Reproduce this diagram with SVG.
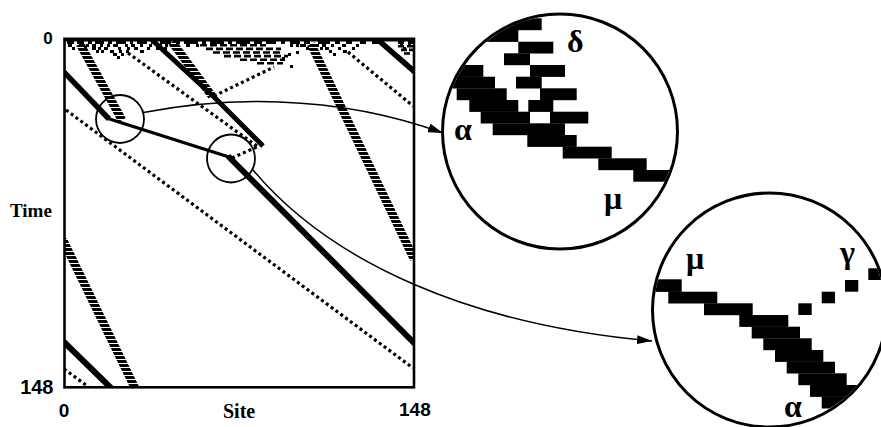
<svg xmlns="http://www.w3.org/2000/svg" width="881" height="427" viewBox="0 0 881 427">
<style>
.lbl{font-family:"Liberation Sans",Arial,sans-serif;font-weight:bold;fill:#000}
.ser{font-family:"Liberation Serif","Times New Roman",serif;font-weight:bold;fill:#000}
.gk{font-family:"Liberation Serif","DejaVu Serif",serif;font-size:32px;font-weight:bold;fill:#000}
.thick{stroke:#000;fill:none;stroke-linecap:butt}
.dot{stroke:#000;stroke-width:3.2;stroke-dasharray:3 3;fill:none}
.hatch{stroke:url(#hh);stroke-width:8.5;fill:none}
.conn{stroke:#000;stroke-width:1.5;fill:none}
.blk{fill:#000}
</style>
<defs>
<pattern id="hh" patternUnits="userSpaceOnUse" width="40" height="4"><rect width="40" height="3" fill="#000"/></pattern>
<clipPath id="plotclip"><rect x="65" y="39" width="349" height="348"/></clipPath>
<clipPath id="c1clip"><circle cx="560" cy="131.5" r="116"/></clipPath>
<clipPath id="c2clip"><circle cx="769.5" cy="310" r="115.5"/></clipPath>
<marker id="ah" viewBox="0 0 10 10" refX="10" refY="5" markerWidth="15" markerHeight="9" markerUnits="userSpaceOnUse" orient="auto" preserveAspectRatio="none"><path d="M0,0 L10,5 L0,10 z" fill="#000"/></marker>
</defs>
<rect width="881" height="427" fill="#fff"/>

<g id="spacetime">
<g clip-path="url(#plotclip)">
<!-- noise at top -->
<path class="blk" d="M65,39h349v2.5h-349z
M67,41h7v3h-7z M77,41h7v3h-7z M88,41h4v3h-4z M95,41h9v3h-9z M108,41h4v3h-4z M116,41h10v3h-10z M130,41h3v3h-3z M137,41h10v3h-10z M151,41h5v3h-5z M160,41h11v3h-11z M176,41h4v3h-4z M184,41h14v3h-14z M202,41h4v3h-4z M210,41h14v3h-14z M228,41h4v3h-4z M236,41h14v3h-14z M254,41h8v3h-8z M266,41h10v3h-10z M281,41h4v3h-4z M290,41h10v3h-10z M304,41h6v3h-6z M318,41h12v3h-12z M335,41h5v3h-5z M346,41h6v3h-6z M360,41h6v3h-6z M372,41h6v3h-6z M398,41h6v3h-6z M408,41h5v3h-5z
M68,44h4v3h-4z M79,44h5v3h-5z M86,44h3v3h-3z M92,44h4v3h-4z M100,44h3v3h-3z M107,44h3v3h-3z M113,44h5v3h-5z M125,44h3v3h-3z M131,44h4v3h-4z M140,44h3v3h-3z M149,44h3v3h-3z M158,44h4v3h-4z M165,44h3v3h-3z M170,44h4v3h-4z M186,44h4v3h-4z M196,44h3v3h-3z M290,44h3v3h-3z M296,44h3v3h-3z M300,44h6v3h-6z M310,44h3v3h-3z M316,44h3v3h-3z M322,44h4v3h-4z M331,44h3v3h-3z M342,44h4v3h-4z M356,44h3v3h-3z M400,44h3v3h-3z M408,44h3v3h-3z
M72,47h3v3h-3z M84,47h3v3h-3z M92,47h4v3h-4z M98,47h3v3h-3z M104,47h4v3h-4z M118,47h3v3h-3z M127,47h3v3h-3z M134,47h4v3h-4z M147,47h3v3h-3z M156,47h3v3h-3z M164,47h3v3h-3z M306,47h3v3h-3z M320,47h3v3h-3z M325,47h4v3h-4z M338,47h3v3h-3z M352,47h3v3h-3z M403,47h3v3h-3z
M96,50h3v3h-3z M101,50h3v3h-3z M110,50h4v3h-4z M119,50h3v3h-3z M126,50h3v3h-3z M140,50h4v3h-4z M329,50h3v3h-3z M343,50h4v3h-4z
M113,53h4v3h-4z M121,53h3v3h-3z M288,53h3v3h-3z M333,53h3v3h-3z M296,51h3v3h-3z M282,57h3v3h-3z M290,65h3v3h-3z M117,56h3v3h-3z"/>
<!-- delta-like bars at top -->
<path class="blk" d="M200,44h7v2.6h-7z M210,44h7v2.6h-7z M220,44h7v2.6h-7z M230,44h7v2.6h-7z M240,44h7v2.6h-7z M250,44h7v2.6h-7z M260,44h6v2.6h-6z
M206,47.6h7v2.6h-7z M216,47.6h7v2.6h-7z M226,47.6h7v2.6h-7z M236,47.6h7v2.6h-7z M246,47.6h7v2.6h-7z M256,47.6h7v2.6h-7z M266,47.6h7v2.6h-7z M276,47.6h5v2.6h-5z
M213,51.2h7v2.6h-7z M223,51.2h7v2.6h-7z M233,51.2h7v2.6h-7z M243,51.2h7v2.6h-7z M253,51.2h7v2.6h-7z M263,51.2h7v2.6h-7z M273,51.2h7v2.6h-7z
M224,54.8h7v2.6h-7z M234,54.8h7v2.6h-7z M244,54.8h7v2.6h-7z M254,54.8h7v2.6h-7z M264,54.8h7v2.6h-7z M274,54.8h7v2.6h-7z M284,54.8h4v2.6h-4z
M240,58.4h7v2.6h-7z M250,58.4h7v2.6h-7z M260,58.4h7v2.6h-7z M270,58.4h7v2.6h-7z M280,58.4h5v2.6h-5z
M257,62h7v2.6h-7z M267,62h7v2.6h-7z M277,62h6v2.6h-6z
M398,45h6v2.6h-6z M407,45h6v2.6h-6z M401,48.6h6v2.6h-6z M409,48.6h5v2.6h-5z M404,52.2h6v2.6h-6z"/>
<!-- hatched lines -->
<path class="hatch" d="M80,44 L122,120"/>
<path class="hatch" d="M172,42 L212,96"/>
<path class="hatch" d="M311,44 L414,259"/>
<path class="hatch" d="M63,240 L135,388"/>
<!-- dotted lines -->
<path class="dot" d="M128,53 L258,147"/>
<path class="dot" d="M66,110 L413,368"/>
<path class="dot" d="M64,369 L90,388"/>
<path class="dot" d="M348,52 L413,106"/>
<path class="dot" d="M214,96 L274,67"/>
<path class="dot" d="M232,158 L259,146"/>
<!-- thick solid lines -->
<path class="thick" stroke-width="5.5" d="M377,39 L416,73"/>
<path class="thick" stroke-width="5.5" d="M62,70 L109,119"/>
<path class="thick" stroke-width="3.4" d="M108,118.5 L229,157"/>
<path class="thick" stroke-width="6" d="M228,156 L416,345"/>
<path class="thick" stroke-width="6" d="M62,340 L112,389"/>
<path class="thick" stroke-width="5" d="M152,40 L213,96 L263,146"/>
</g>
<rect x="64.5" y="38.8" width="349.5" height="348.5" fill="none" stroke="#000" stroke-width="2.6"/>
</g>

<g id="axis-labels">
<text class="lbl" x="48" y="43.5" font-size="17" text-anchor="middle">0</text>
<text class="ser" x="10" y="217" font-size="19">Time</text>
<text class="lbl" x="53.5" y="394" font-size="20" text-anchor="end">148</text>
<text class="lbl" x="64" y="417" font-size="19" text-anchor="middle">0</text>
<text class="ser" x="223" y="417.5" font-size="20">Site</text>
<text class="lbl" x="399" y="416" font-size="19">148</text>
</g>

<g id="lens-1">
<circle cx="120" cy="119" r="24" fill="none" stroke="#000" stroke-width="1.8"/>
</g>
<g id="lens-2">
<circle cx="231" cy="158.5" r="24" fill="none" stroke="#000" stroke-width="1.8"/>
</g>

<g id="zoom-top">
<g clip-path="url(#c1clip)" class="blk">
<rect x="430" y="18.3" width="111.7" height="11.9"/>
<rect x="430" y="30" width="88.3" height="11.9"/>
<rect x="518.3" y="41.7" width="35" height="11.8"/>
<rect x="504" y="53.3" width="26" height="11.9"/>
<rect x="430" y="65" width="53.3" height="11.9"/>
<rect x="530" y="65" width="35" height="11.9"/>
<rect x="430" y="76.7" width="65" height="11.8"/>
<rect x="516" y="76.7" width="25.7" height="11.8"/>
<rect x="456.7" y="88.3" width="50" height="11.9"/>
<rect x="540" y="88.3" width="36.7" height="11.9"/>
<rect x="469.3" y="100" width="49" height="11.9"/>
<rect x="528.3" y="100" width="25" height="11.9"/>
<rect x="480.7" y="111.7" width="49.3" height="11.8"/>
<rect x="550" y="111.7" width="38.3" height="11.8"/>
<rect x="492.7" y="123.3" width="72.3" height="11.9"/>
<rect x="527.3" y="135" width="49.4" height="11.9"/>
<rect x="562.7" y="146.7" width="49" height="11.8"/>
<rect x="598.3" y="158.3" width="48.4" height="11.9"/>
<rect x="633.3" y="170" width="60" height="11.7"/>
</g>
<circle cx="560" cy="131.5" r="117.5" fill="none" stroke="#000" stroke-width="3"/>
<text class="gk" x="567" y="52" font-size="28">δ</text>
<text class="gk" x="454" y="140">α</text>
<text class="gk" x="604" y="209">μ</text>
</g>

<g id="zoom-bottom">
<g clip-path="url(#c2clip)" class="blk">
<rect x="640" y="279.3" width="41.7" height="12.6"/>
<rect x="668.3" y="291.7" width="49" height="11.8"/>
<rect x="704" y="303.3" width="48.7" height="11.9"/>
<rect x="739.3" y="315" width="49" height="11.9"/>
<rect x="751.7" y="326.7" width="48.3" height="11.8"/>
<rect x="763.3" y="338.3" width="48.4" height="11.9"/>
<rect x="775" y="350" width="48.3" height="11.9"/>
<rect x="786.7" y="361.7" width="48.3" height="11.8"/>
<rect x="798.3" y="373.3" width="48.4" height="11.9"/>
<rect x="810" y="385" width="90" height="11.9"/>
<rect x="821.7" y="396.7" width="80" height="11.8"/>
<rect x="833.3" y="408.3" width="70" height="11.9"/>
<rect x="845" y="420" width="60" height="12"/>
<rect x="798.3" y="303.3" width="13.4" height="11.7"/>
<rect x="821.7" y="291.7" width="13.3" height="11.6"/>
<rect x="845" y="280" width="13.3" height="11.7"/>
<rect x="868.3" y="268.3" width="13.3" height="11.7"/>
</g>
<circle cx="769.5" cy="310" r="117" fill="none" stroke="#000" stroke-width="3"/>
<text class="gk" x="686" y="269">μ</text>
<text class="gk" x="840" y="263">γ</text>
<text class="gk" x="784" y="417">α</text>
</g>

<g id="connectors">
<path class="conn" d="M143.5,112.5 C220,98 330,92 443,133" marker-end="url(#ah)"/>
<path class="conn" d="M253,170 C330,262 470,325 652,341" marker-end="url(#ah)"/>
</g>
</svg>
